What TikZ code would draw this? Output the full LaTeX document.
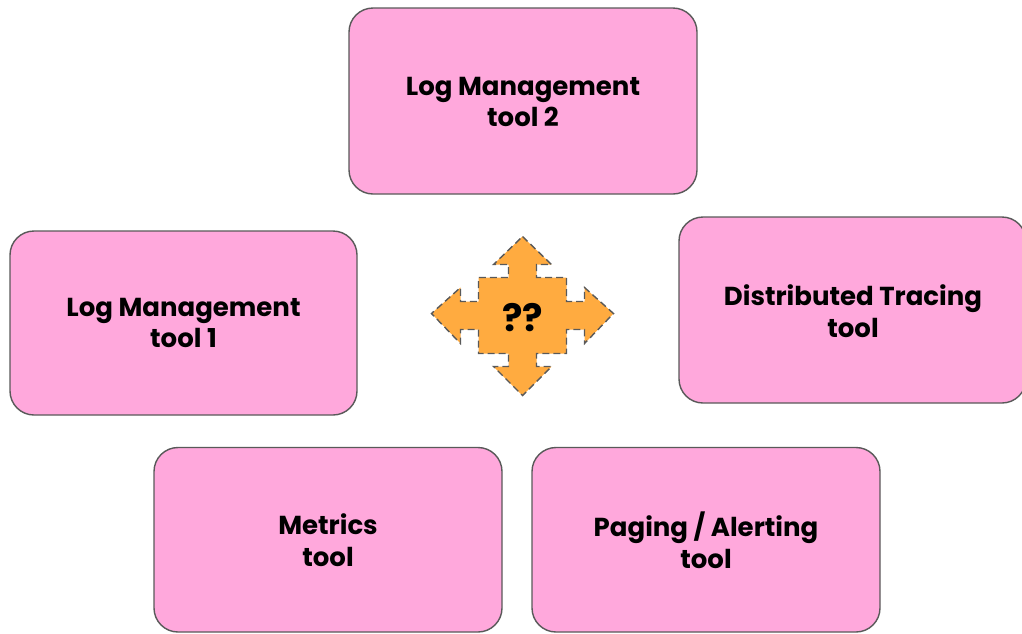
\documentclass[tikz,border=0pt]{standalone}
\usepackage{fontspec}
\setmainfont{Poppins}
\begin{document}
\begin{tikzpicture}[x=1pt,y=-1pt,
  toolbox/.style={draw=black!65, line width=1.4pt, fill=boxpink, rounded corners=24pt},
  tooltext/.style={font=\bfseries\fontsize{26}{31.5}\selectfont, align=center, text=black, inner sep=0pt},
  arrowshape/.style={draw=black!65, line width=1.4pt, fill=arroworange, dash pattern=on 7pt off 4pt}]
\definecolor{boxpink}{HTML}{FFA8DC}
\definecolor{arroworange}{HTML}{FFAB40}
\useasboundingbox (0,0) rectangle (1022,633);
\clip (0,0) rectangle (1022,633);
% boxes
\draw[toolbox] (349,8) rectangle (697,194);
\node[tooltext] (top) at (523,102) {Log Management\\tool 2};
\draw[toolbox] (10,231) rectangle (357,415);
\node[tooltext] (left) at (183.5,323) {Log Management\\tool 1};
\draw[toolbox] (679,217) rectangle (1026,403);
\node[tooltext] (right) at (853,311) {Distributed Tracing\\tool};
\draw[toolbox] (154,447.5) rectangle (502,632);
\node[tooltext] (metrics) at (328,540) {Metrics\\tool};
\draw[toolbox] (532,447.5) rectangle (880,632);
\node[tooltext] (paging) at (706,540) {Paging / Alerting\\tool};
% central four-way arrow
\begin{scope}[shift={(522.5,315.5)}]
\draw[arrowshape]
  (0,-79) -- (29,-51) -- (14,-51) -- (14,-38) -- (44,-38) -- (44,-14)
  -- (62,-14) -- (62,-28) -- (91,-2) -- (62,28) -- (62,14) -- (44,14)
  -- (44,38) -- (14,38) -- (14,51) -- (29,51) -- (0,80) -- (-29,51)
  -- (-14,51) -- (-14,38) -- (-44,38) -- (-44,14) -- (-62,14) -- (-62,28)
  -- (-91,-2) -- (-62,-28) -- (-62,-14) -- (-44,-14) -- (-44,-38)
  -- (-14,-38) -- (-14,-51) -- (-29,-51) -- cycle;
\node[font=\bfseries\fontsize{38}{38}\selectfont, inner sep=0pt] (q) at (0,2) {??};
\end{scope}
\end{tikzpicture}
\end{document}
